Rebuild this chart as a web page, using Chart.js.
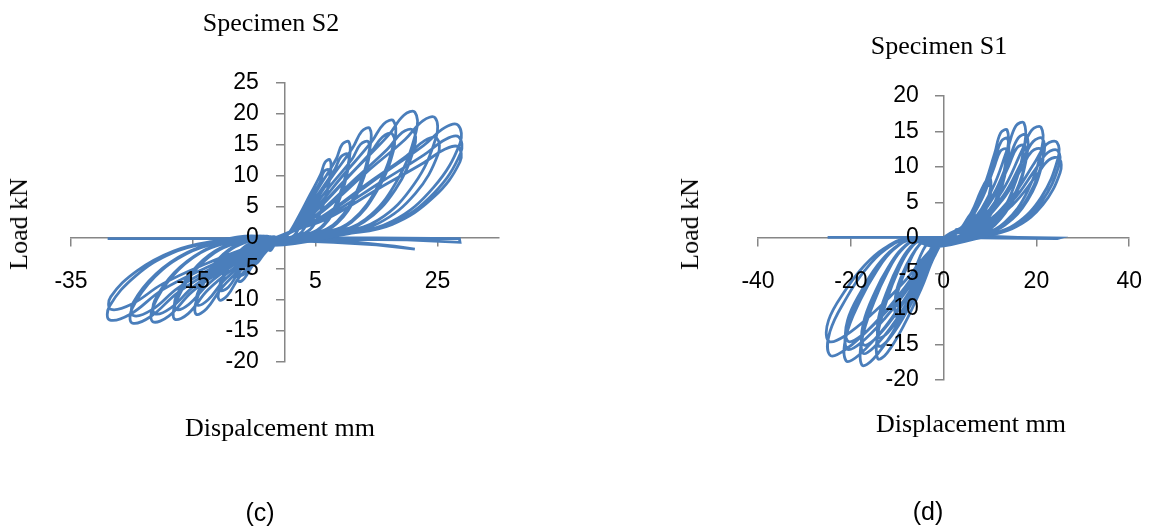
<!DOCTYPE html>
<html>
<head>
<meta charset="utf-8">
<script src="https://cdn.jsdelivr.net/npm/chart.js@4.4.1/dist/chart.umd.min.js"></script>
<style>
  body { margin: 0; background: #fff; }
  #wrap { position: relative; width: 1164px; height: 532px; overflow: hidden; }
  canvas { position: absolute; top: 0; }
  .t { position: absolute; font-family: 'Liberation Serif', serif; font-size: 26px; line-height: 26px; white-space: nowrap; color: #000; transform: translateX(-50%); }
  .yt { transform: translate(-50%, -50%) rotate(-90deg); }
  .cap { position: absolute; font-family: 'Liberation Sans', sans-serif; font-size: 25px; line-height: 25px; color: #000; transform: translate(-50%, -50%); }
</style>
</head>
<body>
<div id="wrap">
  <canvas id="chartS2" width="582" height="532" style="left:0"></canvas>
  <canvas id="chartS1" width="582" height="532" style="left:582px"></canvas>

  <div class="t" style="left:271px; top:10px">Specimen S2</div>
  <div class="t yt" style="left:19px; top:224px">Load kN</div>
  <div class="t" style="left:280px; top:415px">Dispalcement mm</div>
  <div class="cap" style="left:260px; top:512px">(c)</div>

  <div class="t" style="left:939px; top:33px">Specimen S1</div>
  <div class="t yt" style="left:690px; top:224px">Load kN</div>
  <div class="t" style="left:971px; top:411px">Displacement mm</div>
  <div class="cap" style="left:928px; top:511px">(d)</div>
</div>

<script>
// Specimen S2 - displacement (mm) / load (kN), one row per cycle (push leaf, pull leaf)
const s2Disp = [
  0,
  0.9, 1.6, 2.2, 2.5, 2.5, 2.4, 2.0, 1.4, 0.6, 0.2, -0.5, -1.1, -1.8, -2.2, -2.5, -2.5, -2.1, -1.6, -1.1, -0.4, -0.2,
  1.6, 2.8, 3.9, 4.5, 4.5, 4.2, 3.6, 2.5, 1.1, 0.3, -1.0, -2.3, -3.5, -4.4, -5.0, -5.0, -4.3, -3.2, -2.1, -0.8, -0.4,
  2.6, 4.6, 6.4, 7.5, 7.4, 6.6, 5.9, 4.1, 1.9, 0.5, -1.5, -3.4, -5.3, -6.6, -7.5, -7.5, -6.4, -4.8, -3.2, -1.2, -0.6,
  2.5, 4.5, 6.2, 7.3, 7.2, 6.4, 5.8, 4.0, 1.8, 0.4, -1.5, -3.3, -5.1, -6.4, -7.3, -7.3, -6.2, -4.7, -3.1, -1.2, -0.5,
  3.7, 6.5, 9.0, 10.6, 10.5, 9.4, 8.4, 5.8, 2.6, 0.8, -2.1, -4.8, -7.5, -9.4, -10.7, -10.7, -9.1, -6.8, -4.5, -1.7, -0.9,
  3.6, 6.4, 8.9, 10.4, 10.3, 9.2, 8.2, 5.7, 2.6, 0.6, -2.1, -4.7, -7.4, -9.2, -10.5, -10.5, -8.9, -6.7, -4.4, -1.7, -0.7,
  4.9, 8.6, 12.0, 14.0, 13.9, 12.6, 11.1, 7.6, 3.5, 1.0, -2.9, -6.5, -10.2, -12.8, -14.5, -14.5, -12.3, -9.3, -6.1, -2.3, -1.1,
  4.8, 8.5, 11.8, 13.8, 13.7, 12.4, 11.0, 7.5, 3.4, 0.8, -2.9, -6.4, -10.0, -12.6, -14.3, -14.3, -12.2, -9.2, -6.0, -2.3, -1.0,
  6.2, 11.0, 15.3, 18.0, 17.8, 16.2, 14.2, 9.8, 4.5, 1.2, -3.6, -8.1, -12.6, -15.8, -18.0, -18.0, -15.3, -11.5, -7.6, -2.9, -1.3,
  6.2, 10.9, 15.1, 17.8, 17.6, 16.0, 14.1, 9.7, 4.4, 1.0, -3.6, -8.0, -12.5, -15.7, -17.8, -17.8, -15.1, -11.4, -7.5, -2.8, -1.2,
  7.5, 13.2, 18.3, 21.5, 21.3, 19.5, 17.0, 11.7, 5.3, 1.4, -4.3, -9.7, -15.1, -19.0, -21.6, -21.6, -18.4, -13.8, -9.1, -3.5, -1.5,
  7.4, 13.0, 18.1, 21.2, 21.0, 19.2, 16.8, 11.6, 5.3, 1.2, -4.3, -9.6, -14.9, -18.7, -21.3, -21.3, -18.1, -13.6, -8.9, -3.4, -1.4,
  8.6, 15.3, 21.2, 24.8, 24.6, 22.6, 19.7, 13.5, 6.2, 1.6, -5.0, -11.3, -17.5, -22.0, -25.0, -25.0, -21.3, -16.0, -10.5, -4.0, -1.7,
  8.7, 15.4, 21.4, 25.1, 24.9, 22.9, 19.9, 13.7, 6.2, 1.4, -5.0, -11.2, -17.4, -21.8, -24.8, -24.8, -21.1, -15.9, -10.4, -4.0, -1.6,
  9.9, 17.6, 24.4, 28.7, 28.4, 26.2, 22.7, 15.6, 7.1, 1.8, -5.7, -12.9, -20.1, -25.3, -28.7, -28.7, -24.4, -18.4, -12.1, -4.6, -1.9,
  10.0, 17.7, 24.5, 28.8, 28.5, 26.3, 22.8, 15.7, 7.1, 1.6, -5.7, -12.8, -20.0, -25.1, -28.5, -28.5, -24.2, -18.2, -12.0, -4.6, -1.8,
  9.9, 17.6, 24.4, 28.7, 28.4, 26.2, 22.7, 15.6, 7.1, 1.8
];
const s2Load = [
  0,
  0.1, 0.5, 1.4, 2.5, 3.0, 2.9, 2.5, 1.7, 0.7, 0.2, -0.2, -0.7, -1.3, -1.9, -2.0, -1.7, -0.9, -0.4, -0.1, 0, -0.1,
  0.3, 1.0, 2.9, 5.5, 6.5, 6.2, 5.3, 3.6, 1.4, 0.4, -0.5, -1.5, -2.7, -3.9, -4.2, -3.5, -1.9, -0.8, -0.2, 0.1, -0.2,
  0.5, 1.9, 5.7, 10.6, 12.6, 12.2, 10.3, 6.9, 2.8, 0.6, -0.8, -2.5, -4.5, -6.5, -7.0, -5.8, -3.2, -1.3, -0.4, 0.1, -0.4,
  0.4, 1.7, 5.0, 9.2, 11.0, 10.7, 9.0, 6.1, 2.4, 0.5, -0.7, -2.2, -3.8, -5.6, -6.0, -5.0, -2.8, -1.1, -0.3, 0.1, -0.3,
  0.6, 2.3, 7.0, 13.0, 15.5, 15.1, 12.7, 8.5, 3.4, 0.9, -1.2, -3.6, -6.4, -9.3, -10.0, -8.3, -4.6, -1.8, -0.5, 0.2, -0.6,
  0.5, 2.0, 6.1, 11.3, 13.5, 13.1, 11.1, 7.4, 3.0, 0.7, -1.0, -3.1, -5.4, -7.9, -8.5, -7.1, -3.9, -1.5, -0.4, 0.2, -0.5,
  0.7, 2.7, 8.0, 14.9, 17.7, 17.2, 14.5, 9.7, 3.9, 1.0, -1.5, -4.4, -7.9, -11.4, -12.3, -10.2, -5.7, -2.2, -0.6, 0.2, -0.8,
  0.6, 2.3, 7.0, 13.0, 15.5, 15.1, 12.7, 8.5, 3.4, 0.8, -1.3, -3.9, -6.9, -10.0, -10.8, -9.0, -5.0, -1.9, -0.5, 0.2, -0.7,
  0.8, 2.8, 8.5, 15.9, 18.9, 18.4, 15.5, 10.4, 4.2, 1.1, -1.6, -4.7, -8.4, -12.2, -13.1, -10.9, -6.0, -2.4, -0.7, 0.3, -0.9,
  0.7, 2.5, 7.6, 14.1, 16.8, 16.3, 13.8, 9.2, 3.7, 0.9, -1.4, -4.1, -7.4, -10.7, -11.5, -9.5, -5.3, -2.1, -0.6, 0.2, -0.8,
  0.8, 3.0, 9.1, 17.1, 20.3, 19.8, 16.6, 11.2, 4.5, 1.2, -1.6, -4.9, -8.6, -12.6, -13.5, -11.2, -6.2, -2.4, -0.7, 0.3, -1.0,
  0.7, 2.6, 7.8, 14.6, 17.4, 17.0, 14.3, 9.6, 3.8, 1.0, -1.5, -4.4, -7.8, -11.3, -12.2, -10.1, -5.6, -2.2, -0.6, 0.2, -0.9,
  0.8, 2.9, 8.7, 16.3, 19.4, 18.9, 15.9, 10.7, 4.3, 1.3, -1.6, -4.9, -8.8, -12.7, -13.7, -11.4, -6.3, -2.5, -0.7, 0.3, -1.1,
  0.6, 2.4, 7.2, 13.5, 16.1, 15.7, 13.2, 8.9, 3.5, 1.1, -1.5, -4.5, -8.0, -11.6, -12.5, -10.4, -5.8, -2.3, -0.6, 0.3, -1.0,
  0.7, 2.7, 8.2, 15.3, 18.2, 17.8, 14.9, 10.0, 4.0, 1.4, -1.6, -4.8, -8.4, -12.3, -13.2, -11.0, -6.1, -2.4, -0.7, 0.3, -1.2,
  0.7, 2.4, 7.3, 13.7, 16.3, 15.9, 13.4, 9.0, 3.6, 1.2, -1.4, -4.1, -7.4, -10.7, -11.5, -9.5, -5.3, -2.1, -0.6, 0.2, -1.1,
  0.6, 2.2, 6.6, 12.3, 14.7, 14.3, 12.1, 8.1, 3.2, 1.3
];
// S2 residual part after failure, near zero load
const s2TailDisp = [0, 3, 8, 15, 21.3, 18, 10, 4, 10, 20, 28.7, 28.6, 15, 0, -10, -20, -29];
const s2TailLoad = [0, -0.5, -0.7, -1.1, -1.8, -1.3, -0.5, -0.2, -0.2, -0.3, -0.7, -0.1, 0, 0, -0.1, -0.1, -0.1];
const s2XTicks = [-35, -15, 5, 25];

// Specimen S1
const s1Disp = [
  0,
  1.2, 1.9, 2.6, 3.0, 3.0, 2.8, 2.4, 1.8, 1.0, 0.2, -0.4, -1.0, -1.8, -2.6, -3.0, -3.0, -2.6, -2.1, -1.6, -1.0, -0.2,
  2.6, 4.1, 5.6, 6.6, 6.5, 6.0, 5.2, 3.9, 2.1, 0.4, -0.9, -2.2, -3.9, -5.6, -6.5, -6.5, -5.5, -4.5, -3.4, -2.1, -0.4,
  4.0, 6.3, 8.6, 10.1, 10.0, 9.3, 8.0, 6.0, 3.2, 0.6, -1.4, -3.5, -6.2, -8.9, -10.3, -10.3, -8.8, -7.1, -5.4, -3.3, -0.7,
  4.0, 6.3, 8.6, 10.1, 10.0, 9.3, 8.0, 6.0, 3.2, 0.5, -1.4, -3.5, -6.1, -8.8, -10.2, -10.2, -8.7, -7.0, -5.3, -3.3, -0.6,
  5.5, 8.6, 11.8, 13.8, 13.7, 12.3, 11.0, 8.2, 4.4, 0.9, -2.0, -4.8, -8.5, -12.2, -14.2, -14.2, -12.1, -9.8, -7.4, -4.5, -1.0,
  5.5, 8.7, 11.9, 13.9, 13.8, 12.4, 11.0, 8.3, 4.4, 0.8, -2.0, -4.8, -8.4, -12.0, -14.0, -14.0, -11.9, -9.7, -7.3, -4.5, -0.9,
  5.4, 8.5, 11.6, 13.6, 13.5, 12.2, 10.8, 8.1, 4.3, 0.7, -2.0, -4.8, -8.4, -12.0, -14.0, -14.0, -11.9, -9.7, -7.3, -4.5, -0.8,
  6.9, 10.9, 14.9, 17.5, 17.3, 15.6, 13.8, 10.4, 5.5, 1.1, -2.5, -6.0, -10.6, -15.1, -17.6, -17.6, -15.0, -12.1, -9.2, -5.6, -1.2,
  7.1, 11.2, 15.3, 18.0, 17.8, 16.1, 14.2, 10.7, 5.7, 1.0, -2.4, -5.9, -10.4, -15.0, -17.4, -17.4, -14.8, -12.0, -9.0, -5.6, -1.1,
  7.0, 11.0, 15.1, 17.7, 17.5, 15.8, 14.0, 10.5, 5.6, 0.9, -2.4, -5.9, -10.4, -14.9, -17.3, -17.3, -14.7, -11.9, -9.0, -5.5, -1.0,
  8.4, 13.2, 18.1, 21.2, 21.0, 19.0, 16.8, 12.6, 6.7, 1.3, -2.9, -7.1, -12.6, -18.1, -21.0, -21.0, -17.9, -14.5, -10.9, -6.7, -1.4,
  8.5, 13.4, 18.3, 21.5, 21.3, 19.3, 17.0, 12.8, 6.8, 1.2, -2.9, -7.1, -12.5, -17.9, -20.8, -20.8, -17.7, -14.4, -10.8, -6.7, -1.3,
  8.4, 13.2, 18.1, 21.2, 21.0, 19.0, 16.8, 12.6, 6.7, 1.1, -2.9, -7.0, -12.4, -17.8, -20.7, -20.7, -17.6, -14.3, -10.8, -6.6, -1.2,
  9.8, 15.4, 21.0, 24.6, 24.4, 22.2, 19.5, 14.6, 7.8, 1.5, -3.4, -8.3, -14.7, -21.1, -24.5, -24.5, -20.8, -16.9, -12.7, -7.8, -1.6,
  9.8, 15.5, 21.2, 24.8, 24.6, 22.4, 19.7, 14.8, 7.9, 1.4, -3.5, -8.4, -14.9, -21.3, -24.8, -24.8, -21.1, -17.1, -12.9, -7.9, -1.5,
  10.0, 15.7, 21.4, 25.1, 24.9, 22.7, 19.9, 14.9, 8.0, 1.5
];
const s1Load = [
  0,
  0.0, 0.2, 0.5, 1.0, 1.2, 1.2, 0.9, 0.5, 0.1, 0.1, -0.4, -1.1, -1.8, -2.4, -2.5, -2.0, -1.3, -0.7, -0.3, 0, -0.1,
  0.1, 0.5, 1.5, 3.0, 3.6, 3.5, 2.8, 1.5, 0.4, 0.2, -1.0, -2.7, -4.7, -6.2, -6.5, -5.2, -3.3, -1.8, -0.7, -0.1, -0.3,
  0.3, 1.2, 3.6, 7.0, 8.5, 8.2, 6.6, 3.6, 1.0, 0.3, -1.7, -4.6, -7.9, -10.5, -11.0, -8.8, -5.5, -3.0, -1.1, -0.1, -0.5,
  0.3, 1.1, 3.2, 6.2, 7.5, 7.2, 5.9, 3.2, 0.9, 0.2, -1.4, -4.0, -6.8, -9.0, -9.5, -7.6, -4.8, -2.6, -1.0, -0.1, -0.4,
  0.6, 2.1, 6.4, 12.5, 15.2, 14.8, 11.9, 6.4, 1.8, 0.4, -2.6, -7.1, -12.2, -16.2, -17.0, -13.6, -8.5, -4.6, -1.7, -0.2, -0.8,
  0.6, 2.0, 5.9, 11.5, 14.0, 13.6, 10.9, 5.9, 1.7, 0.3, -2.3, -6.4, -10.9, -14.4, -15.2, -12.2, -7.6, -4.1, -1.5, -0.2, -0.7,
  0.5, 1.8, 5.3, 10.3, 12.5, 12.2, 9.8, 5.3, 1.5, 0.3, -2.1, -5.9, -10.1, -13.3, -14.0, -11.2, -7.0, -3.8, -1.4, -0.1, -0.6,
  0.6, 2.3, 6.8, 13.3, 16.2, 15.8, 12.6, 6.8, 1.9, 0.5, -2.7, -7.5, -12.9, -17.0, -17.9, -14.3, -9.0, -4.8, -1.8, -0.2, -1.0,
  0.6, 2.0, 6.1, 11.9, 14.5, 14.1, 11.3, 6.1, 1.7, 0.4, -2.4, -6.8, -11.7, -15.4, -16.2, -13.0, -8.1, -4.4, -1.6, -0.2, -0.9,
  0.5, 1.8, 5.5, 10.7, 13.0, 12.7, 10.1, 5.5, 1.6, 0.4, -2.3, -6.3, -10.8, -14.3, -15.0, -12.0, -7.5, -4.1, -1.5, -0.2, -0.8,
  0.6, 2.2, 6.6, 12.8, 15.6, 15.2, 12.2, 6.6, 1.9, 0.6, -2.6, -7.3, -12.5, -16.4, -17.3, -13.8, -8.7, -4.7, -1.7, -0.2, -1.1,
  0.6, 2.0, 5.9, 11.5, 14.0, 13.6, 10.9, 5.9, 1.7, 0.5, -2.3, -6.6, -11.2, -14.8, -15.6, -12.5, -7.8, -4.2, -1.6, -0.2, -1.0,
  0.5, 1.8, 5.3, 10.3, 12.5, 12.2, 9.8, 5.3, 1.5, 0.5, -2.2, -6.1, -10.4, -13.8, -14.5, -11.6, -7.3, -3.9, -1.5, -0.1, -0.9,
  0.5, 1.9, 5.7, 11.1, 13.5, 13.2, 10.5, 5.7, 1.6, 0.7, -2.5, -6.9, -11.9, -15.7, -16.5, -13.2, -8.3, -4.5, -1.7, -0.2, -1.2,
  0.5, 1.7, 5.2, 10.1, 12.3, 12.0, 9.6, 5.2, 1.5, 0.6, -2.2, -6.1, -10.4, -13.8, -14.5, -11.6, -7.3, -3.9, -1.5, -0.1, -1.1,
  0.4, 1.6, 4.7, 9.2, 11.2, 11.0, 8.7, 4.7, 1.3, 0.6
];
const s1TailDisp = [0, 8, 16, 25, 24.5, 12, 0, -12, -25];
const s1TailLoad = [0, 0.3, 0.1, 0, -0.1, 0, 0.1, 0.1, 0.1];
const s1XTicks = [-40, -20, 0, 20, 40];

const lineColor = '#4a7ebb';
const axisColor = '#868686';
const canvasWidth = 582;
const yLabelGap = 26;   // px between y axis line and right edge of its labels
Chart.defaults.font.family = "'Liberation Sans', Arial, sans-serif";

function toPoints(xs, ys) {
  return xs.map((x, i) => ({ x: x, y: ys[i] }));
}

function makeChart(id, disp, load, tailDisp, tailLoad, xTicks, xMin, xMax, yMin, yMax, pad) {
  // the y labels sit on their own scale, shifted left of the crossing axis
  const labelX = -yLabelGap * (xMax - xMin) / (canvasWidth - pad.left - pad.right);
  const axisGrid = { drawOnChartArea: false, drawTicks: true, tickLength: 8, color: axisColor, lineWidth: 1.5 };
  const tickFont = { size: 23 };

  return new Chart(document.getElementById(id).getContext('2d'), {
    type: 'scatter',
    data: {
      datasets: [{
        data: toPoints(disp, load),
        showLine: true,
        borderColor: lineColor,
        borderWidth: 2.8,
        pointRadius: 0,
        tension: 0.4,
      }, {
        data: toPoints(tailDisp, tailLoad),
        showLine: true,
        borderColor: lineColor,
        borderWidth: 2.8,
        pointRadius: 0,
        tension: 0,
      }],
    },
    options: {
      responsive: false,
      animation: false,
      layout: { padding: pad },
      plugins: {
        legend: { display: false },
        tooltip: { enabled: false },
      },
      scales: {
        x: {
          type: 'linear',
          min: xMin,
          max: xMax,
          position: { y: 0 },
          afterBuildTicks: (scale) => { scale.ticks = xTicks.map(v => ({ value: v })); },
          grid: axisGrid,
          border: { color: axisColor, width: 1.5 },
          ticks: { z: 1, padding: 22, color: '#000', font: tickFont, maxRotation: 0, autoSkip: false },
        },
        y: {
          type: 'linear',
          min: yMin,
          max: yMax,
          position: { x: 0 },
          grid: axisGrid,
          border: { color: axisColor, width: 1.5 },
          ticks: { stepSize: 5, display: false },
        },
        yLabels: {
          type: 'linear',
          axis: 'y',
          min: yMin,
          max: yMax,
          position: { x: labelX },
          grid: { display: false },
          border: { display: false },
          ticks: { z: 1, stepSize: 5, padding: 0, color: '#000', font: tickFont },
        },
      },
    },
  });
}

makeChart('chartS2', s2Disp, s2Load, s2TailDisp, s2TailLoad, s2XTicks, -35, 35, -20, 25,
  { left: 71, right: 83.5, top: 83, bottom: 170 });
makeChart('chartS1', s1Disp, s1Load, s1TailDisp, s1TailLoad, s1XTicks, -40, 40, -20, 20,
  { left: 176, right: 16, top: 96, bottom: 152 });
</script>
</body>
</html>
